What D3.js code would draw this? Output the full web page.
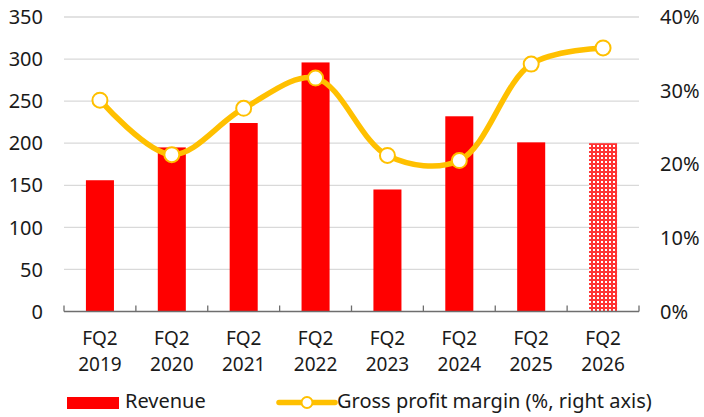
<!DOCTYPE html>
<html lang="en">
<head>
<meta charset="UTF-8">
<title>Revenue and gross profit margin</title>
<script src="https://d3js.org/d3.v7.min.js"></script>
<style>
    body { margin: 0; background: #fff; font-family: "Noto Sans", sans-serif; }
    svg text { fill: #1a1a1a; }
</style>
</head>
<body>
<svg id="chart"></svg>
<script>
    const quarters = ["FQ2 2019", "FQ2 2020", "FQ2 2021", "FQ2 2022", "FQ2 2023", "FQ2 2024", "FQ2 2025", "FQ2 2026"];
    const revenue = [156, 195, 224, 296, 145, 232, 201, 200];
    const margin = [28.7, 21.3, 27.6, 31.7, 21.2, 20.5, 33.6, 35.8];
    const leftTicks = [0, 50, 100, 150, 200, 250, 300, 350];
    const rightTicks = [0, 10, 20, 30, 40];

    const width = 704, height = 417;
    const m = { left: 64, right: 65, top: 17, bottom: 106 };
    const fs = 20;

    const svg = d3.select("#chart").attr("width", width).attr("height", height);

    // dotted fill for the estimate bar
    const pat = svg.append("defs").append("pattern")
        .attr("id", "dots").attr("patternUnits", "userSpaceOnUse")
        .attr("width", 4).attr("height", 4);
    pat.append("rect").attr("width", 4).attr("height", 4).attr("fill", "#ff3333");
    pat.append("rect").attr("x", 1).attr("y", 1).attr("width", 2).attr("height", 2).attr("fill", "#fff");

    const x = d3.scaleBand().domain(quarters).range([m.left, width - m.right]);
    const y = d3.scaleLinear().domain([0, 350]).range([height - m.bottom + 0.5, m.top]);
    const y2 = d3.scaleLinear().domain([0, 40]).range([height - m.bottom + 0.5, m.top]);

    // gridlines
    svg.append("g").selectAll("line").data(leftTicks.slice(1)).join("line")
        .attr("x1", m.left).attr("x2", width - m.right)
        .attr("y1", d => y(d)).attr("y2", d => y(d))
        .attr("stroke", "#d9d9d9").attr("stroke-width", 1.3);

    // bars
    const bw = x.bandwidth() * 0.39;
    svg.append("g").selectAll("rect").data(revenue).join("rect")
        .attr("x", (d, i) => x(quarters[i]) + (x.bandwidth() - bw) / 2)
        .attr("y", d => y(d))
        .attr("width", bw)
        .attr("height", d => y(0) - y(d))
        .attr("fill", (d, i) => i === quarters.length - 1 ? "url(#dots)" : "#ff0000");

    // x axis line with inward ticks at category edges
    const xa = svg.append("g");
    xa.append("line")
        .attr("x1", m.left).attr("x2", width - m.right)
        .attr("y1", y(0)).attr("y2", y(0))
        .attr("stroke", "#6e6e6e").attr("stroke-width", 1.5);
    const edges = quarters.map(q => x(q)).concat([width - m.right]);
    xa.selectAll(".tk").data(edges).join("line")
        .attr("x1", d => d).attr("x2", d => d)
        .attr("y1", y(0)).attr("y2", y(0) - 6)
        .attr("stroke", "#6e6e6e").attr("stroke-width", 1.3);

    // category labels on two lines
    const lab = svg.append("g").selectAll("text").data(quarters).join("text")
        .attr("x", d => x(d) + x.bandwidth() / 2)
        .attr("text-anchor", "middle")
        .attr("font-size", 19);
    lab.append("tspan").attr("x", d => x(d) + x.bandwidth() / 2).attr("y", 345).text(d => d.split(" ")[0]);
    lab.append("tspan").attr("x", d => x(d) + x.bandwidth() / 2).attr("y", 371).text(d => d.split(" ")[1]);

    // left axis labels
    svg.append("g").selectAll("text").data(leftTicks).join("text")
        .attr("x", 43).attr("y", d => y(d)).attr("dy", "0.36em")
        .attr("text-anchor", "end").attr("font-size", fs)
        .text(d => d);

    // right axis labels
    svg.append("g").selectAll("text").data(rightTicks).join("text")
        .attr("x", 660).attr("y", d => y2(d)).attr("dy", "0.36em")
        .attr("font-size", fs)
        .text(d => d + "%");

    // margin line
    const line = d3.line()
        .x((d, i) => x(quarters[i]) + x.bandwidth() / 2)
        .y(d => y2(d))
        .curve(d3.curveCatmullRom.alpha(0.5));
    svg.append("path").datum(margin)
        .attr("d", line)
        .attr("fill", "none").attr("stroke", "#ffc000").attr("stroke-width", 5.5)
        .attr("stroke-linecap", "round");
    svg.append("g").selectAll("circle").data(margin).join("circle")
        .attr("cx", (d, i) => x(quarters[i]) + x.bandwidth() / 2)
        .attr("cy", d => y2(d))
        .attr("r", 7.5)
        .attr("fill", "#fff").attr("stroke", "#ffc000").attr("stroke-width", 2);

    // legend
    const lg = svg.append("g");
    lg.append("rect").attr("x", 67).attr("y", 397).attr("width", 52).attr("height", 12).attr("fill", "#ff0000");
    lg.append("text").attr("x", 125).attr("y", 407.5).attr("font-size", fs).text("Revenue");
    lg.append("line").attr("x1", 279).attr("x2", 335).attr("y1", 402.5).attr("y2", 402.5)
        .attr("stroke", "#ffc000").attr("stroke-width", 5.5).attr("stroke-linecap", "round");
    lg.append("circle").attr("cx", 307).attr("cy", 402.5).attr("r", 5.5)
        .attr("fill", "#fff").attr("stroke", "#ffc000").attr("stroke-width", 2);
    lg.append("text").attr("x", 337).attr("y", 407.5).attr("font-size", fs).text("Gross profit margin (%, right axis)");
</script>
</body>
</html>
